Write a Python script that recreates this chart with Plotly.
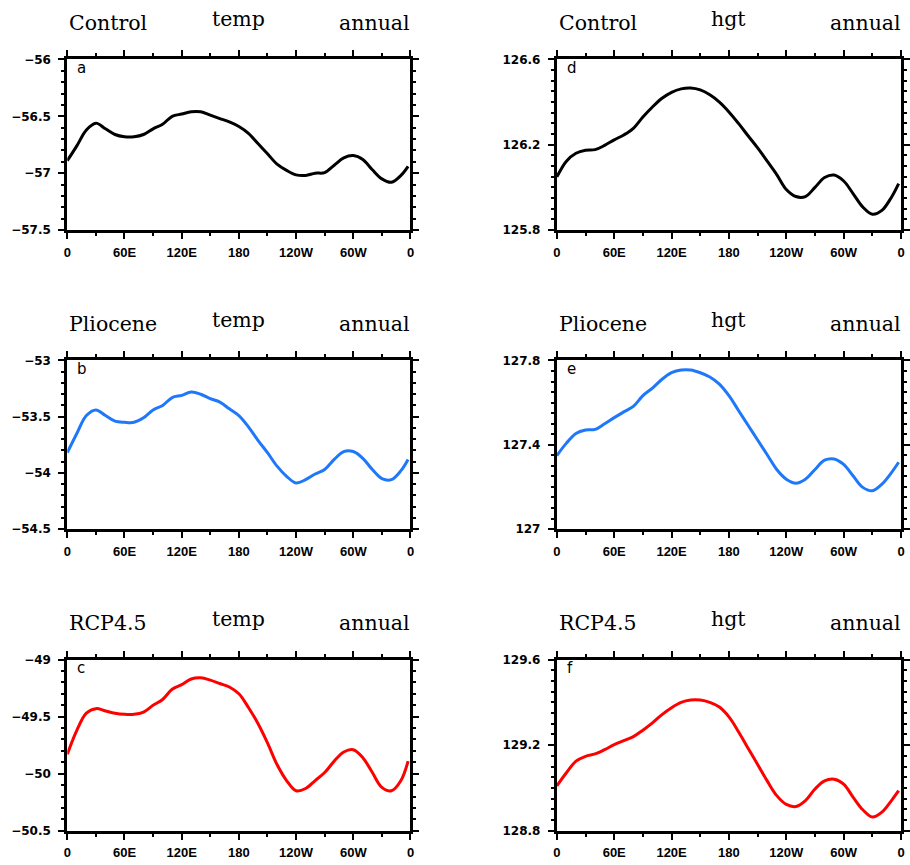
import plotly.graph_objects as go

# ---------------- data ----------------
lon = [0, 10, 20, 30, 40, 50, 60, 70, 80, 90, 100, 110, 120, 130, 140, 150, 160, 170,
       180, 190, 200, 210, 220, 230, 240, 250, 260, 270, 280, 290, 300, 310, 320, 330,
       340, 350, 357.5]

control_temp = [-56.89, -56.76, -56.62, -56.56, -56.61, -56.66, -56.68, -56.68, -56.66,
                -56.61, -56.57, -56.50, -56.48, -56.46, -56.46, -56.49, -56.52, -56.55,
                -56.59, -56.65, -56.74, -56.83, -56.92, -56.975, -57.015, -57.02, -57.00,
                -56.995, -56.93, -56.865, -56.845, -56.88, -56.97, -57.05, -57.08, -57.02,
                -56.94]
plio_temp = [-53.82, -53.65, -53.49, -53.44, -53.49, -53.54, -53.55, -53.55, -53.51,
             -53.44, -53.40, -53.33, -53.31, -53.28, -53.30, -53.34, -53.37, -53.43,
             -53.49, -53.59, -53.71, -53.82, -53.94, -54.03, -54.09, -54.06, -54.01,
             -53.97, -53.88, -53.81, -53.81, -53.87, -53.97, -54.05, -54.06, -53.98,
             -53.88]
rcp_temp = [-49.83, -49.62, -49.47, -49.43, -49.45, -49.47, -49.48, -49.48, -49.46,
            -49.40, -49.35, -49.26, -49.22, -49.17, -49.16, -49.18, -49.21, -49.24,
            -49.30, -49.42, -49.56, -49.73, -49.92, -50.06, -50.15, -50.13, -50.06,
            -49.99, -49.89, -49.81, -49.79, -49.86, -49.99, -50.12, -50.15, -50.06,
            -49.89]
control_hgt = [126.049, 126.123, 126.160, 126.174, 126.177, 126.197, 126.223, 126.246,
               126.277, 126.330, 126.377, 126.418, 126.446, 126.462, 126.466, 126.457,
               126.434, 126.400, 126.354, 126.300, 126.242, 126.185, 126.123, 126.060,
               125.990, 125.957, 125.957, 126.000, 126.046, 126.058, 126.030, 125.970,
               125.908, 125.874, 125.892, 125.954, 126.018]
plio_hgt = [127.349, 127.408, 127.454, 127.470, 127.473, 127.500, 127.529, 127.556,
            127.582, 127.633, 127.669, 127.711, 127.742, 127.755, 127.755, 127.742,
            127.722, 127.688, 127.633, 127.563, 127.493, 127.423, 127.353, 127.283,
            127.237, 127.218, 127.237, 127.283, 127.327, 127.333, 127.307, 127.252,
            127.198, 127.182, 127.213, 127.268, 127.317]
rcp_hgt = [129.010, 129.071, 129.125, 129.148, 129.159, 129.179, 129.202, 129.221,
           129.240, 129.270, 129.304, 129.343, 129.375, 129.400, 129.411, 129.411,
           129.400, 129.378, 129.332, 129.263, 129.186, 129.110, 129.033, 128.964,
           128.923, 128.913, 128.941, 128.995, 129.033, 129.041, 129.018, 128.956,
           128.898, 128.864, 128.887, 128.941, 128.987]

x_tickvals = [0, 60, 120, 180, 240, 300, 360]
x_ticktext = ["0", "60E", "120E", "180", "120W", "60W", "0"]

left_titles = ["Control", "Pliocene", "RCP4.5"]
var_names = ["temp", "hgt"]
season = "annual"
panel_letters = [["a", "b", "c"], ["d", "e", "f"]]

temp_ranges = [[-57.5, -56.0], [-54.5, -53.0], [-50.5, -49.0]]
temp_ticks = [[-57.5, -57, -56.5, -56], [-54.5, -54, -53.5, -53], [-50.5, -50, -49.5, -49]]
temp_ticktext = [["\u221257.5", "\u221257", "\u221256.5", "\u221256"],
                 ["\u221254.5", "\u221254", "\u221253.5", "\u221253"],
                 ["\u221250.5", "\u221250", "\u221249.5", "\u221249"]]
hgt_ranges = [[125.8, 126.6], [127.0, 127.8], [128.8, 129.6]]
hgt_ticks = [[125.8, 126.2, 126.6], [127.0, 127.4, 127.8], [128.8, 129.2, 129.6]]
hgt_ticktext = [["125.8", "126.2", "126.6"], ["127", "127.4", "127.8"],
                ["128.8", "129.2", "129.6"]]

colors = ["#000000", "#1f78fa", "#ff0000"]

# ---------------- layout geometry (pixels) ----------------
W, H = 910, 865
col_x = [(64, 411), (559, 907)]
row_y = [(53.3, 226.7), (359.3, 530.7), (663.3, 837.3)]


def px_x(p):
    return p / W


def px_y(p):
    return 1 - p / H


fig = go.Figure()
series = [[control_temp, plio_temp, rcp_temp], [control_hgt, plio_hgt, rcp_hgt]]
annotations = []
xaxis_font = dict(family="Liberation Sans", size=13, color="black", weight="bold")
yaxis_font = dict(family="DejaVu Sans", size=12, color="black", weight="bold")

n = 0
for c in range(2):
    for r in range(3):
        n += 1
        xa = "x" if n == 1 else f"x{n}"
        ya = "y" if n == 1 else f"y{n}"
        fig.add_trace(go.Scatter(
            x=lon, y=series[c][r], mode="lines",
            line=dict(color=colors[r], width=3, shape="spline", smoothing=1.0),
            xaxis=xa, yaxis=ya, showlegend=False, hoverinfo="skip"))
        x0, x1 = col_x[c]
        y0, y1 = row_y[r]
        if c == 0:
            rng, tv, tt, mdt = temp_ranges[r], temp_ticks[r], temp_ticktext[r], 0.1
        else:
            rng, tv, tt, mdt = hgt_ranges[r], hgt_ticks[r], hgt_ticktext[r], 0.05
        fig.layout[f"xaxis{'' if n == 1 else n}"] = dict(
            domain=[px_x(x0), px_x(x1)], anchor=ya, range=[0, 360],
            tickvals=x_tickvals, ticktext=x_ticktext, ticks="outside", ticklen=6,
            tickwidth=2, tickcolor="black", showline=True, linewidth=3, linecolor="black",
            mirror="ticks", showgrid=False, zeroline=False, tickfont=xaxis_font,
            ticklabelstandoff=2,
            minor=dict(tick0=0, dtick=30, ticks="outside", ticklen=3, tickwidth=2,
                       tickcolor="black", showgrid=False))
        fig.layout[f"yaxis{'' if n == 1 else n}"] = dict(
            domain=[px_y(y1), px_y(y0)], anchor=xa, range=rng,
            tickvals=tv, ticktext=tt, ticks="outside", ticklen=6,
            tickwidth=2, tickcolor="black", showline=True, linewidth=3, linecolor="black",
            mirror="ticks", showgrid=False, zeroline=False, tickfont=yaxis_font,
            ticklabelstandoff=5,
            minor=dict(tick0=rng[0], dtick=mdt, ticks="outside", ticklen=3, tickwidth=2,
                       tickcolor="black", showgrid=False))
        tfont = dict(family="DejaVu Serif", size=20.5, color="black")
        annotations.append(dict(text=left_titles[r], xref="paper", yref="paper",
                                x=px_x(x0), y=px_y(y0 - 37.5), xanchor="left",
                                yanchor="middle", showarrow=False, font=tfont))
        annotations.append(dict(text=var_names[c], xref="paper", yref="paper",
                                x=px_x((x0 + x1) / 2), y=px_y(y0 - 41.5), xanchor="center",
                                yanchor="middle", showarrow=False, font=tfont))
        annotations.append(dict(text=season, xref="paper", yref="paper",
                                x=px_x(x1 + 2), y=px_y(y0 - 37.5), xanchor="right",
                                yanchor="middle", showarrow=False, font=tfont))
        annotations.append(dict(text=panel_letters[c][r], xref="paper", yref="paper",
                                x=px_x(x0 + 8), y=px_y(y0 + 9), xanchor="left",
                                yanchor="middle", showarrow=False,
                                font=dict(family="DejaVu Sans", size=15, color="black")))

fig.update_layout(width=W, height=H, margin=dict(l=0, r=0, t=0, b=0),
                  paper_bgcolor="white", plot_bgcolor="white",
                  annotations=annotations)

fig.write_html("out.html")
